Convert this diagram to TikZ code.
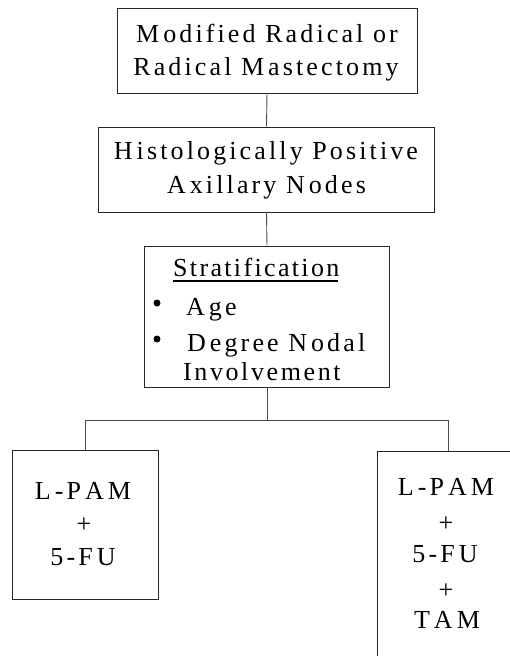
\documentclass[tikz,border=0pt]{standalone}
\usepackage{fontspec}
\setmainfont{Liberation Serif}[LetterSpace=12]
% extra gap that the typeset labels show after some capitals
\newcommand\gp{\kern4pt}
\begin{document}
\begin{tikzpicture}[x=1pt,y=-1pt,
  box/.style={draw=black!85,line width=0.9pt,inner sep=0pt,fill=white},
  link/.style={draw=black!70,line width=0.9pt},
  lbl/.style={inner sep=0pt,font=\fontsize{26}{31}\selectfont},
  dot/.style={circle,fill=black,inner sep=0pt,minimum size=7pt}]
\useasboundingbox (0,0) rectangle (509,656);

% boxes
\node[box,minimum width=300,minimum height=85] (b1) at (267,50.5) {};
\node[box,minimum width=336,minimum height=85] (b2) at (266.5,169.5) {};
\node[box,minimum width=245,minimum height=141] (b3) at (266.5,316.5) {};
\node[box,minimum width=146,minimum height=149] (lb) at (85,524.5) {};
\node[box,minimum width=142,minimum height=220] (rb) at (448,561) {};

% connectors
\coordinate (j) at (267,420);
\draw[link] (b1.south) -- (b2.north);
\draw[link] (b2.south) -- ([xshift=0.5pt]b3.north);
\draw[link] ([xshift=0.5pt]b3.south) -- (j);
\draw[link] (j) -| (lb.north);
\draw[link] (j) -| (rb.north);

% first box
\node[lbl,anchor=base] (t1a) at (267,42) {M\gp odified Radical or};
\node[lbl,anchor=base] (t1b) at (266,75) {Radical M\gp astectomy};

% second box
\node[lbl,anchor=base] (t2a) at (266,159) {H\gp istologically Positive};
\node[lbl,anchor=base] (t2b) at (266.5,193) {A\gp xillary N\gp odes};

% stratification box
\node[lbl,anchor=base west] (t3) at (173,276) {\addfontfeature{LetterSpace=9}Stratification};
\draw[line width=2pt] ([yshift=-5pt]t3.base west) -- ([yshift=-5pt,xshift=-2pt]t3.base east);
\node[dot] (u1) at (157,303) {};
\node[lbl,anchor=base west] (t4) at (186,315) {A\gp ge};
\node[dot] (u2) at (157,339) {};
\node[lbl,anchor=base west] (t5) at (187,351) {D\gp egree N\gp odal};
\node[lbl,anchor=base west] (t6) at (183,380) {\addfontfeature{LetterSpace=10}Involvement};

% left arm
\node[lbl,anchor=base] (l1) at (83,499) {L\gp -P\gp A\gp M};
\node[lbl,anchor=base] (l2) at (84,532) {+};
\node[lbl,anchor=base] (l3) at (83,565) {5-F\gp U};

% right arm
\node[lbl,anchor=base] (r1) at (446,495) {L\gp -P\gp A\gp M};
\node[lbl,anchor=base] (r2) at (446,531) {+};
\node[lbl,anchor=base] (r3) at (445,562) {5-F\gp U};
\node[lbl,anchor=base] (r4) at (446,598) {+};
\node[lbl,anchor=base] (r5) at (447,628) {T\gp A\gp M};
\end{tikzpicture}
\end{document}
